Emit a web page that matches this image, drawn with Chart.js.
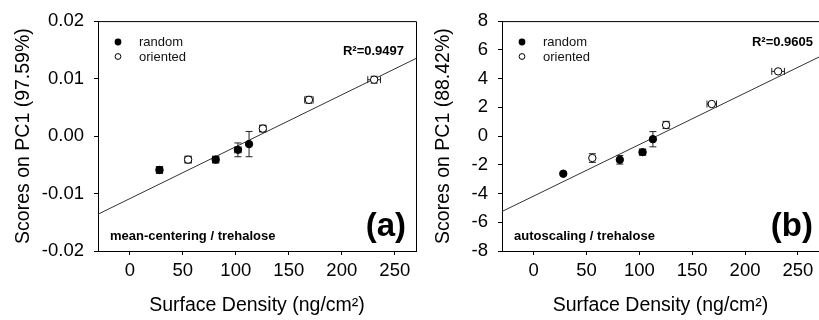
<!DOCTYPE html>
<html>
<head>
<meta charset="utf-8">
<script src="https://cdn.jsdelivr.net/npm/chart.js@4.4.0/dist/chart.umd.min.js"></script>
<style>
html, body { margin:0; padding:0; background:#fff; overflow:hidden; }
#wrap { position:relative; width:819px; height:320px; overflow:hidden; }
#c1 { position:absolute; left:0; top:0; }
#c2 { position:absolute; left:420px; top:0; }
</style>
</head>
<body>
<div id="wrap">
<canvas id="c1" width="421" height="320"></canvas>
<canvas id="c2" width="404" height="320"></canvas>
</div>
<script>
// shared x axis
var xTicks = [0, 50, 100, 150, 200, 250]
var fitX = [-30, 270]

// panel (a) mean-centering / trehalose
var randomXa = [28, 81, 102, 112.5]
var randomYa = [-0.0059, -0.0041, -0.0024, -0.0014]
var randomErrYa = [0.0006, 0.0006, 0.0012, 0.0022]
var randomErrXa = [3, 3, 3, 1]
var orientedXa = [55, 125.5, 169, 230.5]
var orientedYa = [-0.0041, 0.0013, 0.0063, 0.0098]
var orientedErrYa = [0.0006, 0.0006, 0.0006, 0.0006]
var orientedErrXa = [3, 3, 4, 6]
var fitYa = [-0.0136, 0.0135]
var yTicksA = [-0.02, -0.01, 0, 0.01, 0.02]

// panel (b) autoscaling / trehalose
var randomXb = [28, 81.5, 103, 112.8]
var randomYb = [-2.62, -1.65, -1.12, -0.22]
var randomErrYb = [0.1, 0.3, 0.2, 0.53]
var randomErrXb = [1, 1.5, 3, 1]
var orientedXb = [55.5, 125.3, 168.5, 231.3]
var orientedYb = [-1.53, 0.77, 2.23, 4.5]
var orientedErrYb = [0.3, 0.25, 0.12, 0.1]
var orientedErrXb = [1, 2.5, 4.5, 6]
var fitYb = [-5.25, 5.5]
var yTicksB = [-8, -6, -4, -2, 0, 2, 4, 6, 8]

var FONT = "'Liberation Sans', Arial, sans-serif"

function pts(xs, ys){
    var out = []
    for(var i = 0; i < xs.length; i++){
        out.push({x: xs[i], y: ys[i]})
    }
    return out
}

// error bars + frame + in-plot texts
function decor(p){
    return {
        id: 'decor',
        beforeDatasetsDraw: function(chart){
            var ctx = chart.ctx
            var xs = chart.scales.x, ys = chart.scales.y
            ctx.save()
            ctx.strokeStyle = '#222'
            ctx.lineWidth = 1
            chart.data.datasets.forEach(function(ds){
                if(!ds.errY) return
                ds.data.forEach(function(d, i){
                    var px = xs.getPixelForValue(d.x)
                    var py = ys.getPixelForValue(d.y)
                    var ey = ds.errY[i], ex = ds.errX[i]
                    var y1 = ys.getPixelForValue(d.y + ey), y2 = ys.getPixelForValue(d.y - ey)
                    var x1 = xs.getPixelForValue(d.x - ex), x2 = xs.getPixelForValue(d.x + ex)
                    ctx.beginPath()
                    ctx.moveTo(px, y1); ctx.lineTo(px, y2)
                    ctx.moveTo(px - 3.5, y1); ctx.lineTo(px + 3.5, y1)
                    ctx.moveTo(px - 3.5, y2); ctx.lineTo(px + 3.5, y2)
                    ctx.moveTo(x1, py); ctx.lineTo(x2, py)
                    ctx.moveTo(x1, py - 3.5); ctx.lineTo(x1, py + 3.5)
                    ctx.moveTo(x2, py - 3.5); ctx.lineTo(x2, py + 3.5)
                    ctx.stroke()
                })
            })
            ctx.restore()
        },
        afterDraw: function(chart){
            var ctx = chart.ctx
            var a = chart.chartArea
            ctx.save()
            // top and right frame
            ctx.strokeStyle = '#000'
            ctx.lineWidth = 1
            ctx.beginPath()
            ctx.moveTo(a.left, a.top + 0.5); ctx.lineTo(a.right + 0.5, a.top + 0.5)
            ctx.lineTo(a.right + 0.5, a.bottom)
            ctx.stroke()

            // legend
            ctx.fillStyle = '#000'
            ctx.beginPath(); ctx.arc(a.left + 20, 42, 3.4, 0, Math.PI * 2); ctx.fill()
            ctx.beginPath(); ctx.arc(a.left + 20, 56.5, 2.9, 0, Math.PI * 2)
            ctx.fillStyle = '#fff'; ctx.fill(); ctx.stroke()
            ctx.fillStyle = '#111'
            ctx.font = '13px ' + FONT
            ctx.textBaseline = 'middle'
            ctx.textAlign = 'left'
            ctx.fillText('random', a.left + 41, 42)
            ctx.fillText('oriented', a.left + 41, 57)

            // R squared
            ctx.fillStyle = '#000'
            ctx.font = 'bold 13px ' + FONT
            ctx.textAlign = 'right'
            ctx.fillText(p.r2, p.r2x, p.r2y)

            // method label
            ctx.textAlign = 'left'
            ctx.fillText(p.method, a.left + 12, 236)

            // panel letter
            ctx.font = 'bold 33px ' + FONT
            ctx.textAlign = 'right'
            ctx.fillText(p.letter, p.letterX, 227)
            ctx.restore()
        }
    }
}

function makeChart(id, p){
    var ctx = document.getElementById(id)
    new Chart(ctx, {
        type: 'scatter',
        data: {
            datasets: [{
                label: 'random',
                data: pts(p.rx, p.ry),
                errY: p.rey, errX: p.rex,
                pointRadius: 3.7,
                pointBackgroundColor: '#000',
                pointBorderColor: '#000',
                pointBorderWidth: 1,
                order: 1
            }, {
                label: 'oriented',
                data: pts(p.ox, p.oy),
                errY: p.oey, errX: p.oex,
                pointRadius: 3.7,
                pointBackgroundColor: '#fff',
                pointBorderColor: '#000',
                pointBorderWidth: 1,
                order: 2
            }, {
                label: 'fit',
                data: pts(fitX, p.fy),
                showLine: true,
                borderColor: '#333',
                borderWidth: 1,
                pointRadius: 0,
                order: 3
            }]
        },
        options: {
            responsive: false,
            animation: false,
            events: [],
            layout: { padding: { top: 21, right: 2, left: 0, bottom: 0 } },
            plugins: { legend: { display: false }, tooltip: { enabled: false } },
            scales: {
                x: {
                    type: 'linear',
                    min: -30, max: 270,
                    afterBuildTicks: function(s){ s.ticks = xTicks.map(function(v){ return {value: v} }) },
                    afterFit: function(s){ s.height = 69 },
                    grid: { drawOnChartArea: false, color: '#000', tickLength: 4, tickColor: '#000' },
                    border: { color: '#000', width: 1 },
                    ticks: { color: '#000', padding: 5, maxRotation: 0, font: { family: FONT, size: 18.5 } },
                    title: { display: true, text: 'Surface Density (ng/cm²)', color: '#000',
                             padding: { top: 0, bottom: 3 }, font: { family: FONT, size: 19.5 } }
                },
                y: {
                    type: 'linear',
                    min: p.ymin, max: p.ymax,
                    afterBuildTicks: function(s){ s.ticks = p.yt.map(function(v){ return {value: v} }) },
                    afterFit: function(s){ s.width = p.yw },
                    grid: { drawOnChartArea: false, color: '#000', tickLength: 4, tickColor: '#000' },
                    border: { color: '#000', width: 1 },
                    ticks: { color: '#000', padding: 10, font: { family: FONT, size: 18.5 },
                             callback: p.fmt },
                    title: { display: true, text: p.ytitle, color: '#000',
                             padding: { top: 12, bottom: 0 }, font: { family: FONT, size: 19.5 } }
                }
            }
        },
        plugins: [decor(p)]
    })
}

makeChart('c1', {
    rx: randomXa, ry: randomYa, rey: randomErrYa, rex: randomErrXa,
    ox: orientedXa, oy: orientedYa, oey: orientedErrYa, oex: orientedErrXa,
    fy: fitYa, yt: yTicksA, ymin: -0.02, ymax: 0.02, yw: 98,
    fmt: function(v){ return Number(v).toFixed(2) },
    ytitle: 'Scores on PC1 (97.59%)',
    r2: 'R²=0.9497', r2x: 404, r2y: 51,
    method: 'mean-centering / trehalose',
    letter: '(a)', letterX: 406
})

makeChart('c2', {
    rx: randomXb, ry: randomYb, rey: randomErrYb, rex: randomErrXb,
    ox: orientedXb, oy: orientedYb, oey: orientedErrYb, oex: orientedErrXb,
    fy: fitYb, yt: yTicksB, ymin: -8, ymax: 8, yw: 82,
    fmt: function(v){ return String(v) },
    ytitle: 'Scores on PC1 (88.42%)',
    r2: 'R²=0.9605', r2x: 393, r2y: 42,
    method: 'autoscaling / trehalose',
    letter: '(b)', letterX: 393
})
</script>
</body>
</html>
